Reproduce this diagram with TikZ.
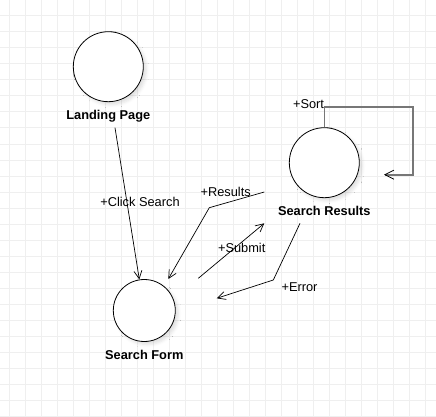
\documentclass[tikz,border=0pt]{standalone}
\usepackage{fontspec}
\setmainfont{Liberation Sans}
\usepackage{tikz}
\usetikzlibrary{arrows.meta,shadows.blur}
\definecolor{gridgray}{HTML}{EFEFEF}
\definecolor{loopgray}{HTML}{777777}
\tikzset{%
    state/.style={%
        draw, shape=circle, fill=white, line width=0.8pt, inner sep=0pt,
        minimum size=70pt,
        blur shadow={shadow xshift=3pt, shadow yshift=-3pt,
            shadow blur radius=3pt, shadow opacity=12}
    },
    small state/.style={state, minimum size=62pt},
    edge/.style={%
        draw, line width=0.7pt, -{Straight Barb[length=8pt,width=8pt]}
    },
    selfloop/.style={%
        draw=loopgray, line width=1.6pt,
        -{Straight Barb[length=9pt,width=9pt,color=black,line width=0.8pt]}
    },
    lbl/.style={inner sep=0pt}
}

\begin{document}
\begin{tikzpicture}[x=1pt, y=-1pt,
    font=\fontsize{12.8}{15}\selectfont,
    every label/.style={font=\fontsize{12.8}{15}\selectfont\bfseries, inner sep=0pt},
    label distance=8pt]
    \useasboundingbox (0,0) rectangle (436,417);
    % grid
    \foreach \x in {0,...,26}
        \draw[gridgray, line width=1pt] (9+16*\x,0) -- (9+16*\x,417);
    \foreach \y in {1,...,26}
        \draw[gridgray, line width=1pt] (0,16*\y) -- (436,16*\y);

    \node[state, label=below:Landing Page] (lp) at (108.3,66.7) {};
    \node[state, label=below:Search Results] (sr) at (324.3,162.7) {};
    \node[small state, label=below:Search Form] (sf) at (144.3,310.5) {};

    \draw[edge] ([shift={(6.7,61)}]lp.center) -- (sf);
    \draw[edge] ([shift={(-60,29.3)}]sr.center) -- ++(-55,15.7)
        -- ([shift={(24,-31.5)}]sf.center);
    \draw[edge] ([shift={(54,-32.2)}]sf.center)
        -- ([shift={(-60,60.6)}]sr.center);
    \draw[edge] ([shift={(-24.3,60.6)}]sr.center) -- ++(-26.7,56.7)
        -- ([shift={(72.4,-12.2)}]sf.center);
    \draw[selfloop] (sr.north) -- ++(0,-20.4) -| ([shift={(88.7,12)}]sr.center)
        -- ([shift={(59.7,12)}]sr.center);

    \node[lbl] at (140,201.7) {+Click Search};
    \node[lbl] at (225.7,191.7) {+Results};
    \node[lbl] at (241.7,247.7) {+Submit};
    \node[lbl] at (299.5,286.7) {+Error};
    \node[lbl] at (308.5,104) {+Sort};
\end{tikzpicture}
\end{document}
